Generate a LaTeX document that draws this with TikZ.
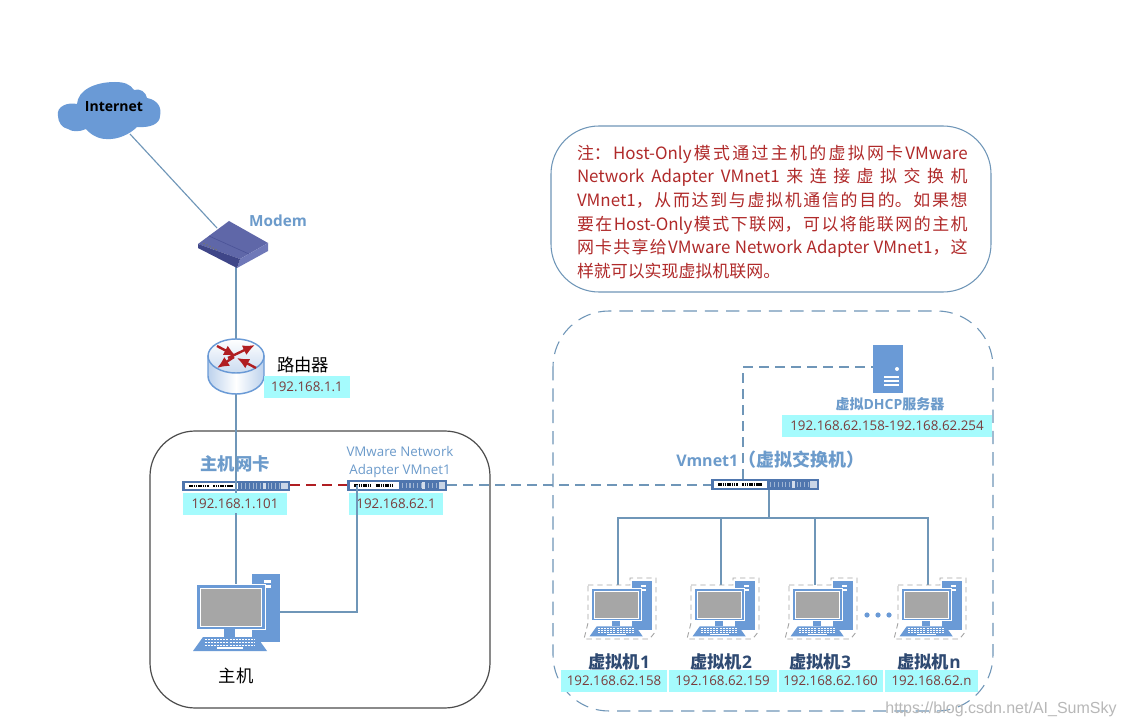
\documentclass[tikz,border=0pt]{standalone}
\usepackage{fontspec}
\setmainfont{Noto Sans CJK SC}
\newfontfamily\latinf{Open Sans}
\newfontfamily\wmf{Liberation Sans}
\XeTeXlinebreaklocale "zh"
\XeTeXlinebreakskip=0pt plus 3pt
\usetikzlibrary{shapes.geometric,arrows.meta}
\definecolor{linec}{HTML}{6F96B8}
\definecolor{blued}{HTML}{6A9AD6}
\definecolor{labelb}{HTML}{6C9BCB}
\definecolor{ipbg}{HTML}{A5FBFD}
\definecolor{ipt}{HTML}{7A3B3B}
\definecolor{notet}{HTML}{B02A2A}
\definecolor{dark}{HTML}{2F4A72}
\definecolor{swb}{HTML}{4F76AE}
\definecolor{arrowr}{HTML}{B01E22}
\definecolor{modema}{HTML}{5F67A8}
\definecolor{modemb}{HTML}{6F78B8}
\definecolor{modemc}{HTML}{3F4688}
\definecolor{modemd}{HTML}{4C5498}
\tikzset{
 wire/.style={draw=linec,line width=0.85pt},
 dwire/.style={wire,dash pattern=on 7.5pt off 4.5pt},
 ip/.style={fill=ipbg,text=ipt,font=\fontsize{10pt}{11pt}\selectfont,inner sep=0pt,minimum height=15pt,anchor=center},
 lab/.style={text=labelb,font=\fontsize{11.5pt}{13pt}\selectfont\bfseries,inner sep=0pt},
 blk/.style={text=black,font=\fontsize{13pt}{14pt}\selectfont,inner sep=0pt},
 vmlab/.style={text=dark,font=\fontsize{13pt}{14pt}\selectfont\bfseries,inner sep=0pt},
 pt/.style={inner sep=0pt,minimum size=0pt,outer sep=0pt},
 rarrow/.style={-{Latex[length=9pt,width=8pt]},draw=arrowr,fill=arrowr,line width=1.8pt}
}
\newcommand{\pcicon}[3]{%
 \begin{scope}[shift={(#1,#2)},x=#3*0.75pt,y=-#3*0.75pt]
  \fill[blued] (59,0) rectangle (87,68);
  \fill[white] (71,6) rectangle (78,9); \fill[white] (71,11) rectangle (78,14);
  \fill[blued,draw=white,line width=0.4pt] (3,10) rectangle (72,55);
  \draw[white,line width=0.7pt,fill=black!35] (7,14) rectangle (68,52);
  \fill[blued] (31,55) rectangle (42,63);
  \fill[blued] (10,63) -- (64,63) -- (74,77) -- (0,77) -- cycle;
  \foreach \r in {65.5,68.5,71.5}{\draw[white,line width=0.5pt,dash pattern=on 1.5pt off 0.8pt] (12,\r) -- (62,\r);}
  \fill[white] (24,73) rectangle (50,75);
 \end{scope}}
\newcommand{\vmicon}[2]{%
 \pcicon{#1}{#2}{0.72}
 \begin{scope}[shift={(#1,#2)}]
  \draw[black!35,line width=0.7pt,dash pattern=on 4pt off 3pt]
    (-1.5,4) -- (40.5,4) -- (40.5,-3) -- (66.5,-3) -- (66.5,50) -- (60,58) -- (-5.5,58) -- (-1.5,42) -- cycle;
 \end{scope}}
\newcommand{\swicon}[4]{%
 \begin{scope}[shift={(#1,#2)}]
  \fill[swb] (0,0) rectangle (#3,#4);
  \fill[white] (3,2) rectangle ({#3*0.52},{#4-2});
  \draw[black,line width=1.6pt,dash pattern=on 1.2pt off 0.5pt] (7,{#4/2}) -- ({#3*0.25},{#4/2});
  \draw[black,line width=1.6pt,dash pattern=on 1.2pt off 0.5pt] ({#3*0.29},{#4/2}) -- ({#3*0.47},{#4/2});
  \draw[white!45!swb,line width=4pt,dash pattern=on 0.8pt off 2pt] ({#3*0.55},{#4/2}) -- ({#3*0.9},{#4/2});
  \fill[white!75!swb] ({#3*0.75},2) rectangle ({#3*0.78},{#4-2});
  \fill[white!70!swb] ({#3*0.92},2) rectangle ({#3*0.98},{#4-2});
 \end{scope}}
\begin{document}
\begin{tikzpicture}[x=0.75pt,y=-0.75pt]
\useasboundingbox (0,0) rectangle (1125,727);
\fill[white] (0,0) rectangle (1125,727);
% containers
\draw[black!70,line width=0.9pt,rounded corners=34pt] (150,431) rectangle (490,708);
\draw[linec,line width=0.8pt,rounded corners=36pt,fill=white] (551,126) rectangle (991,292);
\draw[linec,line width=0.8pt,dash pattern=on 10pt off 6pt,rounded corners=42pt] (553,311) rectangle (993,711);
% note
\node[pt,anchor=north west,text width=293pt,align=justify,text=notet,font=\fontsize{12.7pt}{17.7pt}\selectfont] (note) at (577,145)
 {注：Host-Only模式通过主机的虚拟网卡VMware\linebreak Network Adapter VMnet1来连接虚拟交换机\linebreak VMnet1，从而达到与虚拟机通信的目的。如果想\linebreak 要在Host-Only模式下联网，可以将能联网的主机\linebreak 网卡共享给VMware Network Adapter VMnet1，这\linebreak 样就可以实现虚拟机联网。\par};
% anchors
\node[pt] (cloud) at (130,134) {};
\node[pt] (modemtop) at (217,228) {};
\node[pt] (modembot) at (236,266) {};
\node[pt] (routertop) at (236,340) {};
\node[pt] (routerbot) at (236,394) {};
\node[pt] (nic) at (236,485) {};
\node[pt] (pc) at (236,584) {};
\node[pt] (nicr) at (290,485) {};
\node[pt] (vn) at (357,485) {};
\node[pt] (vnr) at (447,485) {};
\node[pt] (pcside) at (280,612) {};
\node[pt] (vnsw) at (711,485) {};
\node[pt] (swtop) at (743,479) {};
\node[pt] (dhcp) at (873,367) {};
\node[pt] (swbot) at (769,490) {};
\node[pt] (bus) at (769,518) {};
\node[pt] (vm1) at (618,585) {};
\node[pt] (vm2) at (721,585) {};
\node[pt] (vm3) at (815,585) {};
\node[pt] (vm4) at (928,585) {};
% connectors
\draw[wire] (cloud) -- (modemtop);
\draw[wire] (modembot) -- (routertop);
\draw[wire] (routerbot) -- (nic);
\draw[wire] (nic) -- (pc);
\draw[draw=arrowr,line width=0.85pt,dash pattern=on 7.5pt off 4.5pt] (nicr) -- (vn);
\draw[dwire] (vnr) -- (vnsw);
\draw[dwire] (swtop) |- (dhcp);
\draw[wire] (swbot) -- (bus);
\draw[wire] (vm1) |- (bus) -| (vm4);
\draw[wire] (vm2) -- (vm2|-bus);
\draw[wire] (vm3) -- (vm3|-bus);
% cloud
\fill[blued] (58,116) .. controls (56,106) and (68,102) .. (77,104)
 .. controls (78,90) and (95,82) .. (115,82) .. controls (124,82) and (130,84) .. (134,90)
 .. controls (140,88) and (146,92) .. (147,98) .. controls (158,100) and (162,108) .. (160,116)
 .. controls (160,124) and (150,128) .. (137,127) .. controls (130,134) and (118,140) .. (106,139)
 .. controls (98,139) and (90,134) .. (86,129) .. controls (80,132) and (72,132) .. (68,129)
 .. controls (62,128) and (58,122) .. (58,116) -- cycle;
\node[pt,font=\fontsize{10.5pt}{12pt}\selectfont\bfseries,text=black] (inet) at (114,107) {\latinf Internet};
% modem
\fill[modema] (198,244) -- (229,221) -- (268,243) -- (240,259) -- cycle;
\fill[modemb] (268,243) -- (268,251) -- (237,268) -- (240,259) -- cycle;
\fill[modemc] (198,244) -- (240,259) -- (237,268) -- (198,248) -- cycle;
\draw[modemd,line width=0.5pt] (209,236) -- (249,254);
\foreach \i in {0,1,2,3,4}{\fill[black!55] ({204+\i*3},{243.5+\i*1.5}) circle (0.9);}
\node[lab] (modemlabel) at (278,221) {\latinf Modem};
% router
\shade[left color=blued!45!white,right color=blued!45!white,middle color=white,draw=blued,line width=1.1pt] (208,356) -- (208,376) arc[start angle=180,end angle=0,x radius=28,y radius=18] -- (264,356) -- cycle;
\shade[top color=white,bottom color=blued!35!white,draw=blued,line width=1.1pt] (236,356) ellipse[x radius=28,y radius=17];
\draw[rarrow] (217,346) -- (236,356);
\draw[rarrow] (228,358) -- (255,345);
\draw[rarrow] (234,357) -- (217,368);
\draw[rarrow] (256,368) -- (237,358);
\node[blk] (routerlabel) at (303,365) {路由器};
\node[ip,minimum width=64pt,minimum height=16pt] (routerip) at (307,387) {\latinf 192.168.1.1};
% host nic
\swicon{182}{481}{108}{10}
\node[lab,font=\fontsize{13pt}{14pt}\selectfont\bfseries] (niclabel) at (235,464) {主机网卡};
\node[ip,minimum width=78pt,minimum height=16pt] (nicip) at (235,504) {\latinf 192.168.1.101};
\draw[wire] (236,430) -- (236,492);
\draw[wire] (236,513) -- (236,584);
% vmnet adapter
\swicon{347}{480}{100}{11}
\node[pt,align=center,text=labelb,font=\fontsize{10pt}{13.5pt}\selectfont] (vnlabel) at (400,462.5) {\latinf VMware Network\\\latinf Adapter VMnet1};
\node[ip,minimum width=70pt,minimum height=16pt] (vnip) at (396,504) {\latinf 192.168.62.1};
\draw[wire] (pcside) -| (vn);
% host pc
\pcicon{193}{574}{1}
\node[blk] (hostlabel) at (236,676) {主机};
% dhcp
\fill[blued] (873,345) rectangle (903,393);
\fill[white] (897,369) circle (2);
\fill[white] (884,376) rectangle (899,378);
\fill[white] (884,380) rectangle (899,382);
\fill[white] (884,384) rectangle (899,386);
\node[lab,font=\fontsize{10.5pt}{12pt}\selectfont\bfseries] (dhcplabel) at (890,404) {虚拟\latinf DHCP\rmfamily 服务器};
\node[ip,minimum width=158pt,minimum height=16.5pt] (dhcpip) at (887,426) {\latinf 192.168.62.158-192.168.62.254};
% switch
\swicon{711}{479}{108}{11}
\node[lab,anchor=west,font=\fontsize{13.5pt}{14pt}\selectfont\bfseries] (swlabel) at (676,460) {\fontsize{12pt}{14pt}\selectfont\latinf Vmnet1\rmfamily\fontsize{13.5pt}{14pt}\selectfont （虚拟交换机）};
% vms
\vmicon{589.5}{581}
\vmicon{692.5}{581}
\vmicon{790.5}{581}
\vmicon{899.5}{581}
\foreach \x in {867,878,889}{\fill[blued] (\x,615) circle (2.6);}
\node[vmlab] (vl1) at (619,662) {虚拟机\latinf 1};
\node[vmlab] (vl2) at (721,662) {虚拟机\latinf 2};
\node[vmlab] (vl3) at (820,662) {虚拟机\latinf 3};
\node[vmlab] (vl4) at (929,662) {虚拟机\latinf n};
\node[ip,minimum width=80pt,minimum height=16pt] (ip1) at (614,681) {\latinf 192.168.62.158};
\node[ip,minimum width=81pt,minimum height=16pt] (ip2) at (722.5,681) {\latinf 192.168.62.159};
\node[ip,minimum width=78pt,minimum height=16pt] (ip3) at (830.5,681) {\latinf 192.168.62.160};
\node[ip,minimum width=70pt,minimum height=16pt] (ip4) at (931.5,681) {\latinf 192.168.62.n};
% watermark
\node[pt,text=black!28,font=\fontsize{12pt}{14pt}\selectfont] (wm) at (1001,709) {\wmf https://blog.csdn.net/AI\_SumSky};
\end{tikzpicture}
\end{document}
